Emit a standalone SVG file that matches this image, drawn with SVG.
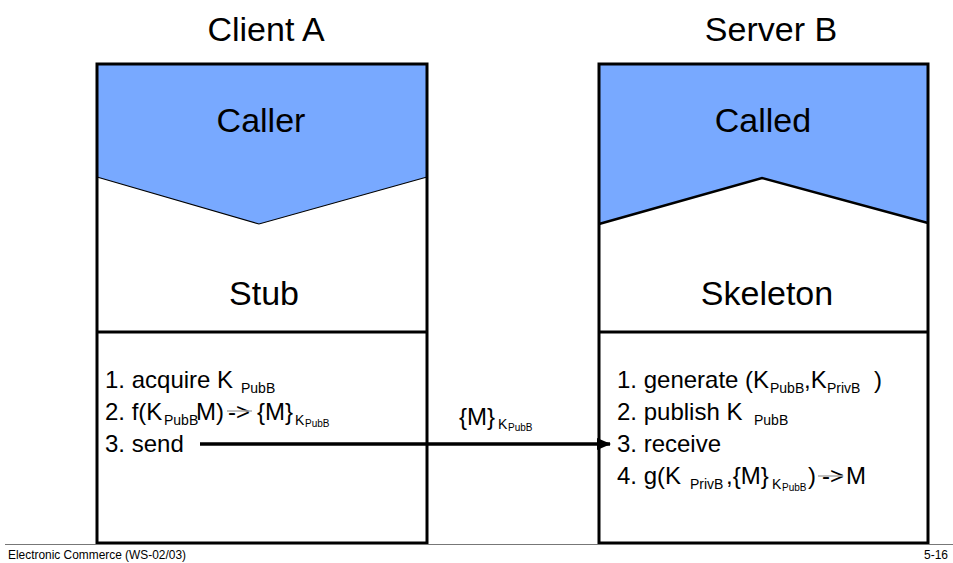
<svg xmlns="http://www.w3.org/2000/svg" width="953" height="563" viewBox="0 0 953 563">
  <defs>
    <marker id="arrowhead" markerWidth="14" markerHeight="12" refX="13" refY="6" orient="auto" markerUnits="userSpaceOnUse">
      <path d="M0,0 L14,6 L0,12 Z" fill="#000"/>
    </marker>
  </defs>
  <style>
    text { font-family: "Liberation Sans", Arial, sans-serif; fill: #000; }
    .title { font-size: 34px; text-anchor: middle; }
    .layer { font-size: 34px; text-anchor: middle; }
    .step { font-size: 24px; }
    .sub { font-size: 14px; }
    .subsub { font-size: 10px; }
    .frame { fill: none; stroke: #000; stroke-width: 3; }
    .divider { stroke: #000; stroke-width: 3; }
    .blue { fill: #78A9FF; }
    .ghost { stroke: #aaa; stroke-width: 1.5; }
    .footer { font-size: 12px; }
  </style>

  <rect width="953" height="563" fill="#fff"/>

  <!-- Client side: caller above stub -->
  <g id="client-a">
    <text class="title" x="266" y="41">Client A</text>
    <polygon class="blue" points="97,64 427,64 427,177 259,224 97,177"/>
    <polyline points="97,177 259,224 427,177" fill="none" stroke="#000" stroke-width="1.2"/>
    <text class="layer" x="261" y="132">Caller</text>
    <text class="layer" x="264" y="305">Stub</text>
    <line class="divider" x1="97" y1="332" x2="427" y2="332"/>
    <rect class="frame" x="97" y="64" width="330" height="479"/>
    <text class="step" x="105" y="388">1. acquire K<tspan class="sub" x="241" dy="5">PubB</tspan></text>
    <text class="step" x="105" y="420">2. f(K<tspan class="sub" x="164" dy="5">PubB</tspan><tspan x="196" dy="-5">M)</tspan><tspan x="228">-&gt;</tspan><tspan x="257">{M}</tspan><tspan class="sub" x="295" dy="5">K</tspan><tspan class="subsub" x="305" dy="2">PubB</tspan></text>
    <line class="ghost" x1="227" y1="411" x2="252" y2="411"/>
    <text class="step" x="105" y="452">3. send</text>
  </g>

  <!-- Server side: called above skeleton -->
  <g id="server-b">
    <text class="title" x="771" y="41">Server B</text>
    <polygon class="blue" points="599,64 928,64 928,223 762,178 599,224"/>
    <polyline points="599,224 762,178 928,223" fill="none" stroke="#000" stroke-width="2.5"/>
    <text class="layer" x="763" y="132">Called</text>
    <text class="layer" x="767" y="305">Skeleton</text>
    <line class="divider" x1="599" y1="332" x2="928" y2="332"/>
    <rect class="frame" x="599" y="64" width="329" height="479"/>
    <text class="step" x="617" y="388">1. generate (K<tspan class="sub" x="770" dy="5">PubB</tspan><tspan x="804" dy="-5">,K</tspan><tspan class="sub" x="827" dy="5">PrivB</tspan><tspan x="874" dy="-5">)</tspan></text>
    <text class="step" x="617" y="420">2. publish K<tspan class="sub" x="754" dy="5">PubB</tspan></text>
    <text class="step" x="617" y="452">3. receive</text>
    <text class="step" x="617" y="484">4. g(K<tspan class="sub" x="690" dy="5">PrivB</tspan><tspan x="726" dy="-5">,{M}</tspan><tspan class="sub" x="772" dy="5">K</tspan><tspan class="subsub" x="782" dy="2">PubB</tspan><tspan x="808" dy="-7">)</tspan><tspan x="822">-&gt;</tspan><tspan x="846">M</tspan></text>
    <line class="ghost" x1="818" y1="476" x2="843" y2="476"/>
  </g>

  <!-- Message in transit -->
  <g id="message-label">
    <text class="step" x="459" y="425">{M}<tspan class="sub" x="498" dy="4">K</tspan><tspan class="subsub" x="508" dy="2">PubB</tspan></text>
  </g>

  <g id="connectors">
    <line x1="200" y1="444" x2="610" y2="444" stroke="#000" stroke-width="3.5" marker-end="url(#arrowhead)"/>
  </g>

  <!-- Page footer -->
  <g id="footer">
    <line x1="5" y1="544.5" x2="953" y2="544.5" stroke="#777" stroke-width="1"/>
    <text class="footer" x="8" y="559" textLength="178" lengthAdjust="spacingAndGlyphs">Electronic Commerce (WS-02/03)</text>
    <text class="footer" x="948" y="559" text-anchor="end">5-16</text>
  </g>
</svg>
